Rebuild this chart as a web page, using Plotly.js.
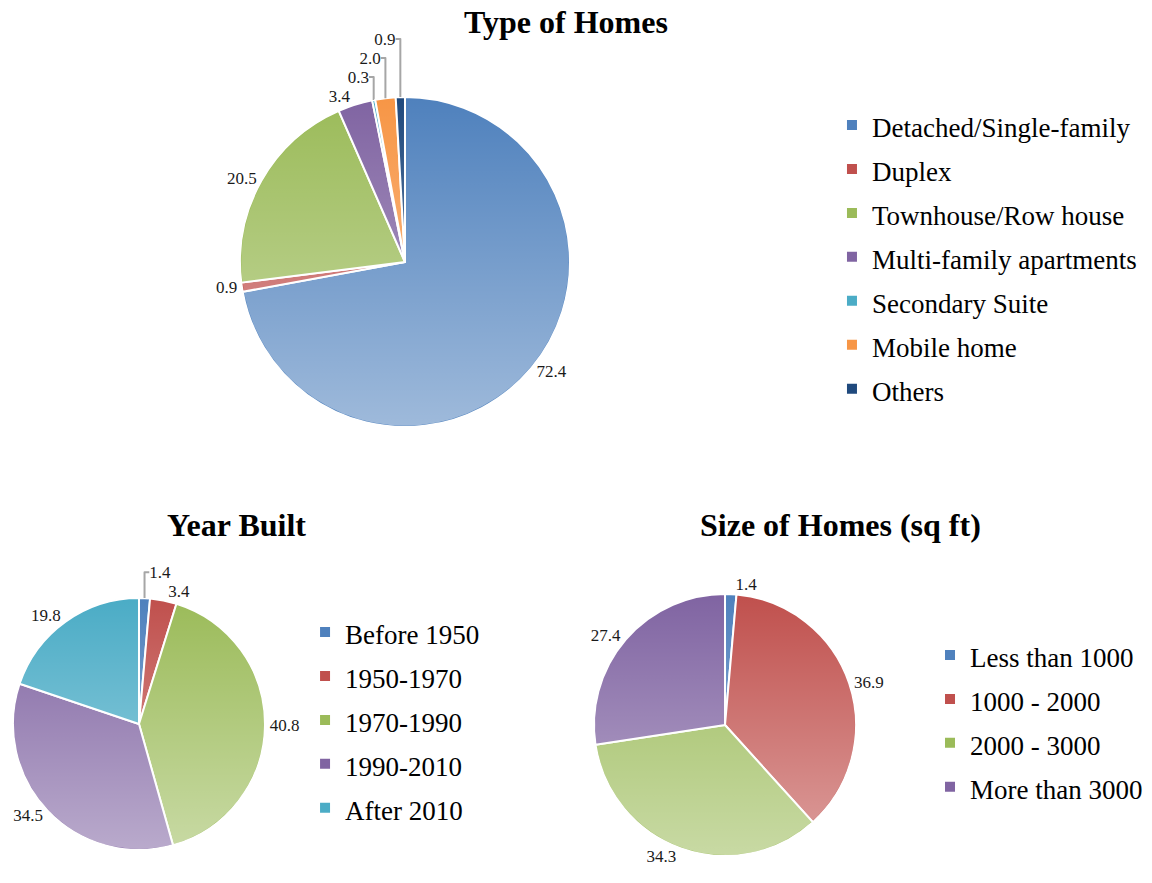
<!DOCTYPE html>
<html>
<head>
<meta charset="utf-8">
<script src="https://cdn.plot.ly/plotly-3.0.1.min.js"></script>
<style>html,body{margin:0;padding:0;background:#fff;} #chart{width:1152px;height:883px;}</style>
</head>
<body>
<div id="chart"></div>
<script>
// ---- Data ----
const homeTypes = ["Detached/Single-family", "Duplex", "Townhouse/Row house", "Multi-family apartments", "Secondary Suite", "Mobile home", "Others"];
const homeTypeValues = [72.4, 0.9, 20.5, 3.4, 0.3, 2.0, 0.9];

const yearBuilt = ["Before 1950", "1950-1970", "1970-1990", "1990-2010", "After 2010"];
const yearBuiltValues = [1.4, 3.4, 40.8, 34.5, 19.8];

const homeSizes = ["Less than 1000", "1000 - 2000", "2000 - 3000", "More than 3000"];
const homeSizeValues = [1.4, 36.9, 34.3, 27.4];

const titles = ["Type of Homes", "Year Built", "Size of Homes (sq ft)"];

// ---- Styling ----
const C = {blue:"#4f81bd", red:"#c0504d", green:"#9bbb59", purple:"#8064a2", aqua:"#4bacc6", orange:"#f79646", navy:"#1f497d"};
const serif = "Liberation Serif, Times New Roman, serif";
const labelFont = {family: serif, size: 17, color: "#a6a6a6"};
const legendSpan = s => '<span style="font-size:27px">' + s + '</span>';

function pieTrace(labels, values, colors, domain, legendId) {
  return {
    type: "pie",
    labels: labels.map(legendSpan),
    values: values,
    sort: false,
    direction: "clockwise",
    rotation: 0,
    textposition: "outside",
    texttemplate: '<span style="color:#1a1a1a">%{value:.1f}</span>',
    outsidetextfont: labelFont,
    marker: {colors: colors, line: {color: "#ffffff", width: 2}},
    domain: domain,
    legend: legendId,
    hoverinfo: "label+value"
  };
}

const dTop = {x: [0.2083, 0.4948], y: [0.5164, 0.8901]};
const dYear = {x: [0.0113, 0.2300], y: [0.0374, 0.3228]};
const dSize = {x: [0.5156, 0.7431], y: [0.0306, 0.3273]};

const traces = [
  pieTrace(homeTypes, homeTypeValues, [C.blue, C.red, C.green, C.purple, C.aqua, C.orange, C.navy], dTop, "legend"),
  pieTrace(yearBuilt, yearBuiltValues, [C.blue, C.red, C.green, C.purple, C.aqua], dYear, "legend2"),
  pieTrace(homeSizes, homeSizeValues, [C.blue, C.red, C.green, C.purple], dSize, "legend3")
];

// soft vertical light gradient over each pie disc (Excel-style shading)
const gradSvg = "<svg xmlns='http://www.w3.org/2000/svg' width='100' height='100' viewBox='0 0 100 100' preserveAspectRatio='none'><defs><linearGradient id='g' x1='0' y1='0' x2='0' y2='1'><stop offset='0' stop-color='white' stop-opacity='0.0'/><stop offset='1' stop-color='white' stop-opacity='0.45'/></linearGradient></defs><circle cx='50' cy='50' r='49.6' fill='url(#g)'/></svg>";
const gradSrc = "data:image/svg+xml;charset=utf-8," + encodeURIComponent(gradSvg);
function gradImage(d) {
  return {source: gradSrc, xref: "paper", yref: "paper", x: d.x[0], y: d.y[1],
          sizex: d.x[1] - d.x[0], sizey: d.y[1] - d.y[0], xanchor: "left", yanchor: "top",
          sizing: "stretch", layer: "above"};
}

const legendBase = {font: {family: serif, size: 31.5, color: "#000"}, bgcolor: "rgba(0,0,0,0)", xanchor: "left", yanchor: "top", orientation: "v"};
const titleFont = {family: serif, size: 32, weight: "bold", color: "#000"};

const layout = {
  width: 1152, height: 883,
  margin: {l: 0, r: 0, t: 0, b: 0},
  paper_bgcolor: "#ffffff",
  showlegend: true,
  legend: Object.assign({}, legendBase, {x: 0.7222, y: 0.8890}),
  legend2: Object.assign({}, legendBase, {x: 0.2648, y: 0.3148}),
  legend3: Object.assign({}, legendBase, {x: 0.8073, y: 0.2888}),
  images: [gradImage(dTop), gradImage(dYear), gradImage(dSize)],
  annotations: [
    {text: titles[0], x: 0.4913, y: 0.975, xref: "paper", yref: "paper", showarrow: false, xanchor: "center", yanchor: "middle", font: titleFont},
    {text: titles[1], x: 0.2057, y: 0.4054, xref: "paper", yref: "paper", showarrow: false, xanchor: "center", yanchor: "middle", font: titleFont},
    {text: titles[2], x: 0.7292, y: 0.4054, xref: "paper", yref: "paper", showarrow: false, xanchor: "center", yanchor: "middle", font: titleFont}
  ]
};

Plotly.newPlot("chart", traces, layout, {displayModeBar: false, staticPlot: true});
</script>
</body>
</html>
